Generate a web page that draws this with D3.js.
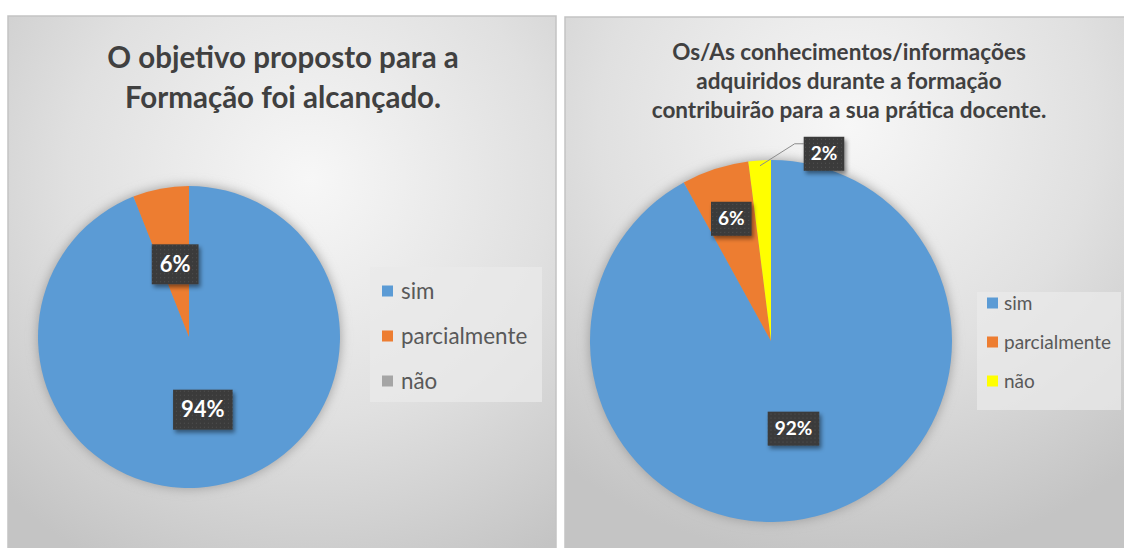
<!DOCTYPE html>
<html>
<head>
<meta charset="utf-8">
<script src="https://cdn.jsdelivr.net/npm/d3@7"></script>
<style>
  body { margin: 0; background: #fff; }
  svg { display: block; font-family: Lato, "Open Sans", sans-serif; }
</style>
</head>
<body>
<svg id="chart" width="1124" height="548"></svg>
<script>
// data
const categories = ["sim", "parcialmente", "não"];
const valuesObjetivo = [94, 6, 0];
const valuesConhecimentos = [92, 6, 2];
const titleObjetivo = ["O objetivo proposto para a", "Formação foi alcançado."];
const titleConhecimentos = ["Os/As conhecimentos/informações", "adquiridos durante a formação", "contribuirão para a sua prática docente."];
const colorsObjetivo = ["#5B9BD5", "#ED7D31", "#A5A5A5"];
const colorsConhecimentos = ["#5B9BD5", "#ED7D31", "#FFFF00"];

class PieChart {
    constructor(svg, opts) {
        this.svg = svg;
        Object.assign(this, opts);
    }

    initialize() {
        this.g = this.svg.append("g");
        this.color = d3.scaleOrdinal().domain(categories).range(this.colors);
        this.addPanel();
        this.addTitle();
        this.addPie();
        this.addLegend();
    }

    addPanel() {
        const p = this.panel;
        const grad = this.svg.select("defs").append("radialGradient")
            .attr("id", `bg-${this.id}`)
            .attr("cx", p.gx).attr("cy", p.gy).attr("r", "0.8");
        grad.append("stop").attr("offset", "0").attr("stop-color", "#f7f7f7");
        grad.append("stop").attr("offset", "0.55").attr("stop-color", "#e0e0e0");
        grad.append("stop").attr("offset", "1").attr("stop-color", "#c4c4c4");

        this.g.append("rect")
            .attr("x", p.x).attr("y", p.y)
            .attr("width", p.w).attr("height", p.h)
            .attr("fill", `url(#bg-${this.id})`)
            .attr("stroke", "#c3c3c3")
            .attr("stroke-width", 1.5);
    }

    addTitle() {
        const t = this.titleStyle;
        this.g.append("text")
            .attr("text-anchor", "middle")
            .attr("fill", "#404040")
            .style("font-weight", "bold")
            .style("font-size", `${t.size}px`)
            .selectAll("tspan")
            .data(this.title)
            .join("tspan")
            .attr("x", t.x)
            .attr("y", (d, i) => t.y + i * t.lineHeight)
            .text(d => d);
    }

    addPie() {
        const { cx, cy, r } = this.pie;
        const pie = d3.pie().sort(null).value(d => d.value);
        const arcs = pie(categories.map((c, i) => ({ name: c, value: this.values[i] })));
        const arc = d3.arc().innerRadius(0).outerRadius(r);

        const pg = this.g.append("g").attr("transform", `translate(${cx},${cy})`);

        pg.append("circle").attr("r", r)
            .attr("fill", "#9a9a9a")
            .attr("filter", "url(#glow)");

        pg.selectAll("path")
            .data(arcs.filter(d => d.value > 0))
            .join("path")
            .attr("d", arc)
            .attr("fill", d => this.color(d.data.name));

        arcs.forEach((d, i) => {
            if (d.value <= 0) return;
            const lab = this.labels[i];
            const mid = (d.startAngle + d.endAngle) / 2;
            if (lab.outside) {
                const ex = Math.sin(mid) * r * 0.97, ey = -Math.cos(mid) * r * 0.97;
                this.drawLabel(pg, ex + lab.dx, ey + lab.dy, d.data.value, (box) => {
                    const elbowX = box.x - 9, elbowY = box.y + 7;
                    pg.insert("polyline", ".lbl")
                        .attr("points", `${ex},${ey} ${elbowX},${elbowY} ${box.x},${elbowY}`)
                        .attr("fill", "none")
                        .attr("stroke", "#8c8c8c")
                        .attr("stroke-width", 1);
                });
            } else {
                // centroid of a (0, r*f) arc sits at r*f/2, so double it
                const c = d3.arc().innerRadius(0).outerRadius(r * lab.f).centroid(d);
                this.drawLabel(pg, c[0] * 2, c[1] * 2, d.data.value);
            }
        });
    }

    drawLabel(pg, x, y, v, after) {
        const s = this.labelStyle;
        const lg = pg.append("g").attr("class", "lbl").attr("transform", `translate(${x},${y})`);
        const rect = lg.append("rect").attr("fill", "url(#dots)").attr("filter", "url(#shadow)");
        const txt = lg.append("text")
            .attr("text-anchor", "middle")
            .attr("dy", "0.35em")
            .attr("fill", "#ffffff")
            .style("font-weight", "bold")
            .style("font-size", `${s.size}px`)
            .text(`${v}%`);
        const w = txt.node().getComputedTextLength() + s.padX * 2;
        const h = s.h;
        rect.attr("x", -w / 2).attr("y", -h / 2).attr("width", w).attr("height", h);
        if (after) after({ x: x - w / 2, y: y - h / 2, w, h });
    }

    addLegend() {
        const L = this.legend;
        const lg = this.g.append("g");
        lg.append("rect")
            .attr("x", L.x).attr("y", L.y).attr("width", L.w).attr("height", L.h)
            .attr("fill", "#eaeaea").attr("fill-opacity", 0.75);

        const items = lg.selectAll(".legend-item")
            .data(categories)
            .join("g")
            .attr("class", "legend-item")
            .attr("transform", (d, i) => `translate(${L.x + L.mx},${L.y0 + i * L.step})`);

        items.append("rect")
            .attr("x", 0).attr("y", -L.sq / 2)
            .attr("width", L.sq).attr("height", L.sq)
            .attr("fill", d => this.color(d));

        items.append("text")
            .attr("x", L.sq + L.gap)
            .attr("dy", "0.35em")
            .attr("fill", "#595959")
            .style("font-size", `${L.size}px`)
            .text(d => d);
    }
}

const svg = d3.select("#chart");
const defs = svg.append("defs");

const glow = defs.append("filter").attr("id", "glow")
    .attr("x", "-20%").attr("y", "-20%").attr("width", "140%").attr("height", "140%");
glow.append("feGaussianBlur").attr("stdDeviation", 6);

const shadow = defs.append("filter").attr("id", "shadow")
    .attr("x", "-30%").attr("y", "-30%").attr("width", "170%").attr("height", "170%");
shadow.append("feDropShadow").attr("dx", 2).attr("dy", 3).attr("stdDeviation", 2)
    .attr("flood-color", "#000").attr("flood-opacity", 0.45);

const dots = defs.append("pattern").attr("id", "dots")
    .attr("width", 4).attr("height", 4).attr("patternUnits", "userSpaceOnUse");
dots.append("rect").attr("width", 4).attr("height", 4).attr("fill", "#3a3a3a");
dots.append("rect").attr("x", 1).attr("y", 1).attr("width", 1).attr("height", 1).attr("fill", "#555");

new PieChart(svg, {
    id: "obj",
    values: valuesObjetivo,
    colors: colorsObjetivo,
    title: titleObjetivo,
    panel: { x: 8, y: 16, w: 548, h: 545, gx: "0.55", gy: "0.3" },
    titleStyle: { x: 283, y: 68, size: 29.5, lineHeight: 40 },
    pie: { cx: 189, cy: 337, r: 151 },
    labels: [{ f: 0.49 }, { f: 0.49 }, { f: 0.49 }],
    labelStyle: { size: 22, padX: 8, h: 40 },
    legend: { x: 370, y: 267, w: 172, h: 135, mx: 12, y0: 291, step: 45, sq: 11, gap: 8, size: 22.4 }
}).initialize();

new PieChart(svg, {
    id: "con",
    values: valuesConhecimentos,
    colors: colorsConhecimentos,
    title: titleConhecimentos,
    panel: { x: 565, y: 17, w: 566, h: 545, gx: "0.5", gy: "0.2" },
    titleStyle: { x: 849, y: 60, size: 22.5, lineHeight: 29 },
    pie: { cx: 771, cy: 341, r: 181 },
    labels: [{ f: 0.5 }, { f: 0.71 }, { outside: true, dx: 64, dy: -12 }],
    labelStyle: { size: 19, padX: 7, h: 34 },
    legend: { x: 977, y: 292, w: 144, h: 118, mx: 10, y0: 303, step: 39, sq: 11, gap: 6, size: 19 }
}).initialize();
</script>
</body>
</html>
